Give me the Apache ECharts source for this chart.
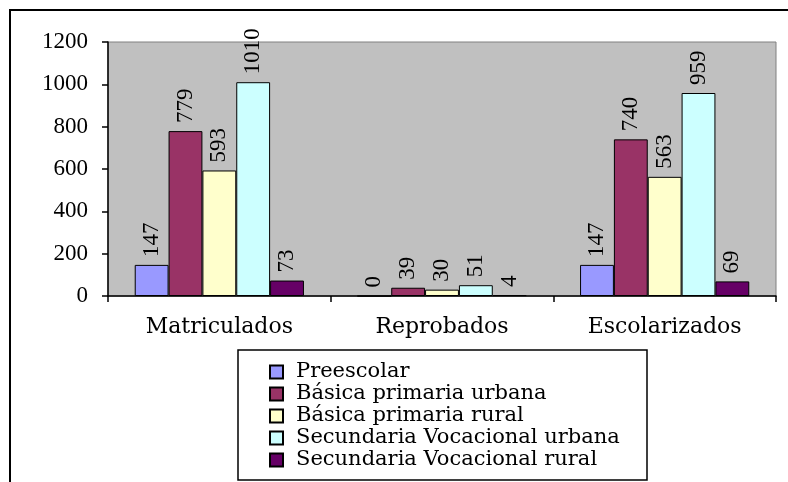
<!DOCTYPE html>
<html>
<head>
<meta charset="utf-8">
<script src="https://cdn.jsdelivr.net/npm/echarts@6/dist/echarts.min.js"></script>
<style>
  html, body { margin: 0; padding: 0; background: #fff; }
  #chart { width: 788px; height: 482px; }
</style>
</head>
<body>
<div id="chart"></div>
<script>
  // datos
  var categorias = ['Matriculados', 'Reprobados', 'Escolarizados'];
  var seriesNombres = ['Preescolar', 'Básica primaria urbana', 'Básica primaria rural',
    'Secundaria Vocacional urbana', 'Secundaria Vocacional rural'];
  var preescolar = [147, 0, 147];
  var basicaUrbana = [779, 39, 740];
  var basicaRural = [593, 30, 563];
  var secundariaUrbana = [1010, 51, 959];
  var secundariaRural = [73, 4, 69];
  var colores = ['#9999FF', '#993366', '#FFFFCC', '#CCFFFF', '#660066'];

  var valores = [preescolar, basicaUrbana, basicaRural, secundariaUrbana, secundariaRural];
  var fuenteNum = "'Liberation Serif', serif";
  var fuenteTxt = "'DejaVu Serif', serif";

  var chart = echarts.init(document.getElementById('chart'));

  var series = valores.map(function (datos, i) {
    return {
      name: seriesNombres[i],
      type: 'bar',
      data: datos,
      barGap: '0%',
      barCategoryGap: '24%',
      itemStyle: { color: colores[i], borderColor: '#000', borderWidth: 1 },
      label: {
        show: true,
        position: 'top',
        rotate: 90,
        align: 'left',
        verticalAlign: 'middle',
        distance: 8,
        color: '#000',
        fontFamily: fuenteNum,
        fontSize: 23
      }
    };
  });

  var option = {
    animation: false,
    backgroundColor: '#fff',
    color: colores,
    grid: {
      left: 108,
      right: 12,
      top: 42,
      bottom: 186,
      show: true,
      backgroundColor: '#C0C0C0',
      borderColor: '#808080',
      borderWidth: 1
    },
    xAxis: {
      type: 'category',
      data: categorias,
      axisLine: { lineStyle: { color: '#000', width: 1.5 } },
      axisTick: { show: true, length: 6, lineStyle: { color: '#000', width: 1.5 } },
      axisLabel: { color: '#000', fontFamily: fuenteTxt, fontSize: 22, margin: 20 }
    },
    yAxis: {
      type: 'value',
      min: 0,
      max: 1200,
      interval: 200,
      splitLine: { show: false },
      axisLine: { show: true, lineStyle: { color: '#000', width: 1.5 } },
      axisTick: { show: true, length: 6, lineStyle: { color: '#000', width: 1.5 } },
      axisLabel: {
        color: '#000',
        fontFamily: fuenteNum,
        fontSize: 23,
        margin: 20,
        formatter: function (v) { return String(v); }
      }
    },
    legend: {
      orient: 'vertical',
      left: 269,
      top: 361,
      padding: 0,
      itemWidth: 13,
      itemHeight: 13,
      itemGap: 0,
      icon: 'rect',
      data: seriesNombres,
      textStyle: {
        color: '#000',
        fontFamily: fuenteTxt,
        fontSize: 21,
        lineHeight: 22,
        padding: [0, 0, 0, 8]
      }
    },
    graphic: [
      {
        type: 'rect',
        shape: { x: 10, y: 10, width: 800, height: 500 },
        style: { fill: 'none', stroke: '#000', lineWidth: 2 },
        silent: true
      },
      {
        type: 'rect',
        shape: { x: 238, y: 350, width: 409, height: 130 },
        style: { fill: 'none', stroke: '#000', lineWidth: 1.5 },
        silent: true
      }
    ],
    series: series
  };

  chart.setOption(option);
</script>
</body>
</html>
